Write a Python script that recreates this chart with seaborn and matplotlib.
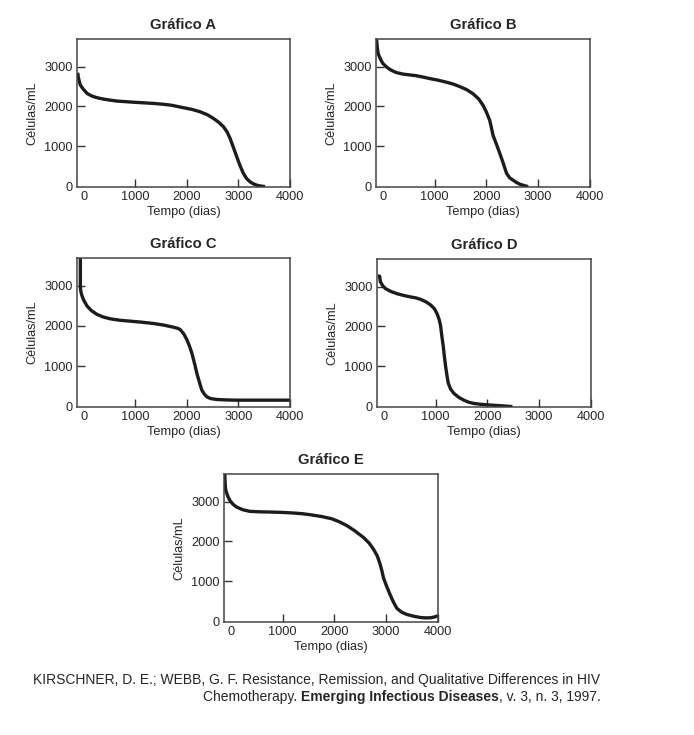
import matplotlib
matplotlib.use("Agg")
import matplotlib.pyplot as plt
import seaborn as sns

# curve values (tempo em dias, células/mL)
A_X = [-116, -108, -95, -80, -65, -30, 0, 65, 120, 180, 250, 323, 400, 500, 645, 800,
       923, 1100, 1355, 1550, 1700, 1935, 2100, 2258, 2400, 2516, 2620, 2710, 2780,
       2839, 2900, 2968, 3030, 3097, 3160, 3226, 3290, 3355, 3430, 3516]
A_Y = [2845, 2760, 2680, 2600, 2535, 2470, 2420, 2326, 2285, 2250, 2222, 2200, 2180,
       2160, 2134, 2120, 2109, 2095, 2075, 2053, 2030, 1967, 1925, 1866, 1790, 1699,
       1600, 1490, 1360, 1197, 980, 736, 520, 318, 190, 109, 60, 25, 5, -10]

B_X = [-120, -112, -105, -90, -65, -40, 0, 80, 160, 260, 390, 520, 645, 780, 900, 1060,
       1220, 1360, 1480, 1620, 1740, 1850, 1935, 2000, 2065, 2100, 2130, 2195, 2260,
       2330, 2390, 2450, 2516, 2580, 2645, 2730, 2806]
B_Y = [3700, 3560, 3480, 3330, 3250, 3180, 3080, 2980, 2910, 2850, 2810, 2790, 2770,
       2735, 2700, 2660, 2610, 2560, 2500, 2420, 2320, 2190, 2030, 1860, 1650, 1450,
       1270, 1050, 820, 560, 320, 210, 150, 95, 50, 15, -10]

C_X = [-65, -65, -62, -55, -45, -32, 0, 65, 150, 258, 380, 516, 700, 903, 1100, 1355,
       1550, 1742, 1820, 1871, 1940, 2000, 2050, 2097, 2150, 2194, 2245, 2290, 2340,
       2387, 2460, 2580, 2750, 2968, 3500, 4000]
C_Y = [3720, 3000, 2920, 2860, 2800, 2745, 2640, 2494, 2380, 2285, 2220, 2176, 2140,
       2117, 2095, 2059, 2020, 1967, 1940, 1908, 1800, 1657, 1500, 1322, 1060, 820,
       590, 402, 300, 234, 190, 167, 157, 150, 150, 150]

D_X = [-110, -90, -77, -72, -65, -20, 32, 130, 258, 390, 516, 620, 710, 810, 903, 980,
       1032, 1070, 1097, 1120, 1148, 1170, 1194, 1220, 1245, 1290, 1355, 1450, 1548,
       1640, 1742, 1870, 2000, 2250, 2484]
D_Y = [3270, 3265, 3250, 3190, 3120, 3020, 2950, 2880, 2820, 2775, 2740, 2715, 2680,
       2620, 2540, 2440, 2310, 2170, 2020, 1770, 1510, 1250, 1000, 770, 580, 430, 320,
       220, 150, 100, 68, 48, 34, 12, -10]

E_X = [-116, -113, -110, -104, -97, -60, -19, 40, 110, 230, 368, 550, 755, 1000, 1206,
       1380, 1529, 1750, 1948, 2100, 2239, 2400, 2561, 2670, 2755, 2830, 2884, 2920,
       2948, 3010, 3077, 3140, 3206, 3300, 3400, 3530, 3658, 3760, 3852, 3930, 4000]
E_Y = [3700, 3590, 3500, 3390, 3290, 3140, 3034, 2935, 2864, 2795, 2754, 2742, 2737,
       2727, 2712, 2695, 2670, 2625, 2568, 2490, 2398, 2260, 2100, 1960, 1805, 1630,
       1424, 1250, 1085, 870, 661, 480, 322, 225, 169, 125, 93, 83, 85, 105, 136]

TITLES = ["Gráfico A", "Gráfico B", "Gráfico C", "Gráfico D", "Gráfico E"]
X_TICKS = [0, 1000, 2000, 3000, 4000]
Y_TICKS = [0, 1000, 2000, 3000]
CITE_1 = "KIRSCHNER, D. E.; WEBB, G. F. Resistance, Remission, and Qualitative Differences in HIV"
CITE_2A = "Chemotherapy. "
CITE_2B = "Emerging Infectious Diseases"
CITE_2C = ", v. 3, n. 3, 1997."

W, H = 694, 735
# axes boxes in pixels: left, top, right, bottom
BOXES = [(77, 39, 290, 187), (376, 39, 590, 187),
         (77, 258, 290, 407), (377, 259, 591, 407),
         (224, 474, 438, 622)]


def panel(fig, box, xs, ys, title):
    l, t, r, b = box
    ax = fig.add_axes([l / W, 1 - b / H, (r - l) / W, (b - t) / H])
    sns.lineplot(x=xs, y=ys, ax=ax, sort=False, estimator=None,
                 color="#1c1c1c", lw=2.4, solid_joinstyle="round",
                 solid_capstyle="butt")
    ax.set_xlim(-130, 4000)
    ax.set_ylim(-20, 3690)
    ax.set_xticks(X_TICKS)
    ax.set_yticks(Y_TICKS)
    ax.tick_params(bottom=True, left=True, direction="in", length=5.5, width=1.0,
                   labelsize=9.2, color="#333333", pad=3)
    # the reference shows no tick mark at x = 0 / y = 0
    ax.xaxis.get_major_ticks()[0].tick1line.set_visible(False)
    ax.yaxis.get_major_ticks()[0].tick1line.set_visible(False)
    for s in ax.spines.values():
        s.set_linewidth(1.1)
        s.set_color("#444444")
    ax.set_xlabel("Tempo (dias)", fontsize=9.2, labelpad=2)
    ax.set_ylabel("Células/mL", fontsize=9.2, labelpad=4)
    ax.set_title(title, fontsize=10.6, fontweight="bold", pad=7)
    return ax


def main():
    sns.set_theme(style="white")
    plt.rcParams["font.family"] = ["Liberation Sans", "DejaVu Sans"]
    fig = plt.figure(figsize=(W / 100, H / 100), dpi=100)

    data = [(A_X, A_Y), (B_X, B_Y), (C_X, C_Y), (D_X, D_Y), (E_X, E_Y)]
    for box, (xs, ys), title in zip(BOXES, data, TITLES):
        panel(fig, box, xs, ys, title)

    fs = 10
    fig.text(33 / W, 1 - 680 / H, CITE_1, fontsize=fs, va="center", ha="left")
    t1 = fig.text(203 / W, 1 - 697 / H, CITE_2A, fontsize=fs, va="center", ha="left")
    fig.canvas.draw()
    r = fig.canvas.get_renderer()
    x1 = t1.get_window_extent(r).x1
    t2 = fig.text(x1 / W, 1 - 697 / H, CITE_2B, fontsize=fs, va="center", ha="left",
                  fontweight="bold")
    x2 = t2.get_window_extent(r).x1
    fig.text(x2 / W, 1 - 697 / H, CITE_2C, fontsize=fs, va="center", ha="left")

    fig.savefig("out.png", dpi=100)


if __name__ == "__main__":
    main()
